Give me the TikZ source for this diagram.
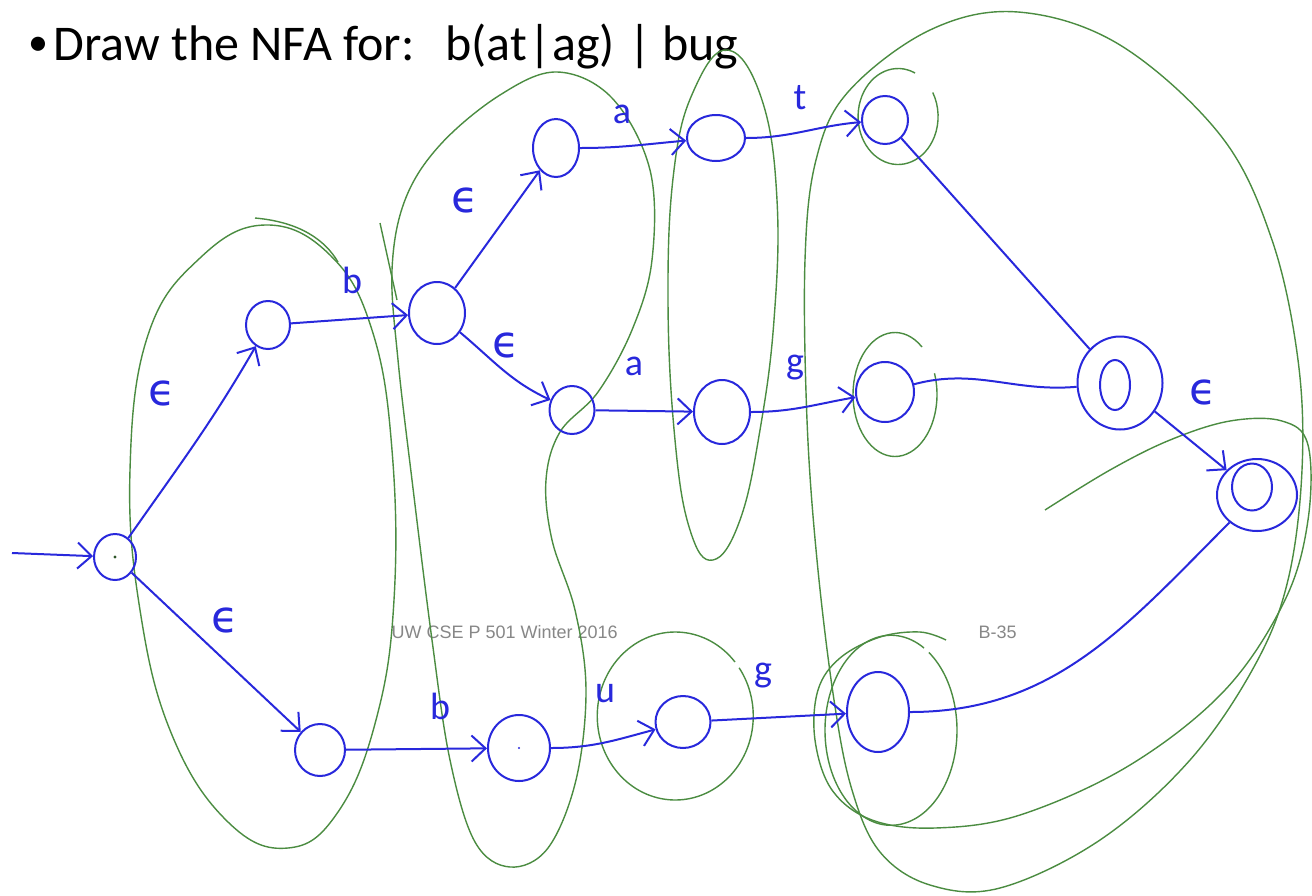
\documentclass[tikz,border=0pt]{standalone}
\usepackage{fontspec}
\setmainfont{Carlito}
\newfontfamily\footfont{Liberation Sans}
\newfontfamily\greekfont{DejaVu Sans}
\usetikzlibrary{arrows.meta,shapes.geometric}

\definecolor{ink}{RGB}{40,40,220}
\definecolor{hull}{RGB}{75,140,65}
\definecolor{foot}{RGB}{135,135,135}

\begin{document}
\begin{tikzpicture}[x=1pt,y=-1pt,
  state/.style={ellipse,draw=ink,line width=2pt,inner sep=0pt},
  trans/.style={draw=ink,line width=2pt,-{Straight Barb[length=14pt,width=26pt,line width=2pt]}},
  plain/.style={draw=ink,line width=2pt},
  lab/.style={text=ink,font=\fontsize{38}{38}\selectfont},
  eps/.style={text=ink,font=\greekfont\fontsize{44}{44}\selectfont},
  group/.style={draw=hull,line width=1.4pt},
  foottext/.style={text=foot,anchor=base west,font=\footfont\fontsize{18}{20}\selectfont}]

\useasboundingbox[fill=white] (0,0) rectangle (1312,895);

% heading
\node[font=\fontsize{40}{40}\selectfont] (bullet) at (38,46) {\textbullet};
\node[anchor=base west,font=\fontsize{50}{60}\selectfont] (title) at (50,60) {Draw the NFA for:};
\node[anchor=base west,font=\fontsize{50}{60}\selectfont] (regex) at (442,60) {b(at\kern1pt|\kern1pt ag) \kern2pt| bug};

% footer
\node[foottext] (course) at (388,638) {UW CSE P 501 Winter 2016};
\node[foottext] (page) at (975,638) {B-35};

% epsilon-closure groupings
\draw[group] plot[smooth cycle,tension=0.7] coordinates {(265,225) (330,255) (372,330) (392,450) (394,600) (376,720) (338,812) (288,848) (228,822) (172,735) (140,610) (130,470) (148,335) (200,258)};
\draw[group] (255,218) .. controls (300,222) and (325,240) .. (338,262);
\draw[group] plot[smooth cycle,tension=0.6] coordinates {(557,72) (612,98) (650,170) (652,260) (632,330) (598,392) (560,432) (546,480) (552,540) (575,610) (586,690) (576,780) (548,848) (510,867) (475,842) (450,760) (432,640) (412,480) (398,360) (392,270) (405,200) (440,145) (500,95)};
\draw[group] (380,223) -- (397,300);
\draw[group] plot[smooth cycle,tension=0.7] coordinates {(728,50) (762,100) (777,200) (774,320) (760,430) (740,520) (713,560) (690,530) (675,440) (668,300) (674,170) (694,90)};
\draw[group] plot[smooth cycle,tension=0.6] coordinates {(848,92) (930,30) (1018,12) (1120,45) (1221,136) (1272,240) (1298,360) (1302,470) (1288,580) (1255,665) (1190,760) (1100,840) (1000,888) (930,885) (880,852) (852,790) (834,700) (817,560) (807,420) (805,260) (816,160)};
\draw[group] plot[smooth,tension=0.6] coordinates {(1045,510) (1110,470) (1170,440) (1230,421) (1282,421) (1308,445) (1308,520) (1285,600) (1225,690) (1130,765) (1020,815) (935,828) (872,820) (832,790) (815,740) (818,690) (840,658) (880,637) (920,632) (946,640)};
\draw[group] (915,73) arc[start angle=65,end angle=390,x radius=40pt,y radius=48pt];
\draw[group] (922,347) arc[start angle=50,end angle=380,x radius=42pt,y radius=62pt];
\draw[group] (735,662) arc[start angle=40,end angle=395,x radius=78pt,y radius=84pt];
\draw[group] (924,648) arc[start angle=60,end angle=415,x radius=66pt,y radius=95pt];

% states
\node[state,minimum width=42pt,minimum height=46pt] (s0) at (115,557) {};
\node[state,minimum width=44pt,minimum height=48pt] (s1) at (268,325) {};
\node[state,minimum width=56pt,minimum height=62pt] (s2) at (437,313) {};
\node[state,minimum width=46pt,minimum height=58pt] (s3) at (556,148) {};
\node[state,minimum width=58pt,minimum height=46pt] (s4) at (716,138) {};
\node[state,minimum width=46pt,minimum height=48pt] (s5) at (885,120) {};
\node[state,minimum width=45pt,minimum height=48pt] (s6) at (572,410) {};
\node[state,minimum width=56pt,minimum height=64pt] (s7) at (722,412) {};
\node[state,minimum width=58pt,minimum height=60pt] (s8) at (885,392) {};
\node[state,minimum width=85pt,minimum height=93pt] (s9) at (1120,383) {};
\node[state,minimum width=30pt,minimum height=50pt] (s9in) at (1115,385) {};
\node[state,minimum width=80pt,minimum height=72pt] (s10) at (1257,495) {};
\node[state,minimum width=40pt,minimum height=47pt] (s10in) at (1252,487) {};
\node[state,minimum width=50pt,minimum height=52pt] (s11) at (320,750) {};
\node[state,minimum width=62pt,minimum height=66pt] (s12) at (519,748) {};
\node[state,minimum width=55pt,minimum height=52pt] (s13) at (683,722) {};
\node[state,minimum width=62pt,minimum height=80pt] (s14) at (878,712) {};
\fill[hull!60!black] (s0.center) circle (1.6pt);
\fill[ink] (s12.center) circle (1.2pt);

% transitions
\coordinate (entry) at (12,553);
\draw[trans] (entry) -- (s0);
\draw[trans] (s0) to[out=55,in=-120] (s1);
\draw[trans] (s0) -- (s11);
\draw[trans] (s1) -- (s2);
\draw[trans] (s2) -- (s3);
\draw[trans] (s3) to[out=0,in=185] (s4);
\draw[trans] (s4) to[out=0,in=185] (s5);
\draw[trans] (s2) to[out=-40,in=155] (s6);
\draw[trans] (s6) -- (s7);
\draw[trans] (s7) to[out=0,in=190] (s8);
\draw[plain] (s5) -- (s9);
\draw[plain] (s8) to[out=15,in=185] (s9);
\draw[trans] (s9) -- (s10);
\draw[trans] (s11) -- (s12);
\draw[trans] (s12) to[out=0,in=195] (s13);
\draw[trans] (s13) -- (s14);
\draw[plain] (s14) to[out=0,in=-135] (s10);

% transition labels
\node[eps] (e1) at (162,393) {ϵ};
\node[eps] (e2) at (225,620) {ϵ};
\node[eps] (e3) at (465,200) {ϵ};
\node[eps] (e4) at (506,345) {ϵ};
\node[eps] (e5) at (1203,392) {ϵ};
\node[lab] (lb1) at (352,280) {b};
\node[lab] (la1) at (622,114) {a};
\node[lab] (lt) at (800,98) {t};
\node[lab] (la2) at (634,366) {a};
\node[lab] (lg1) at (795,368) {g};
\node[lab] (lb2) at (440,706) {b};
\node[lab] (lu) at (605,694) {u};
\node[lab] (lg2) at (763,676) {g};
\end{tikzpicture}
\end{document}
